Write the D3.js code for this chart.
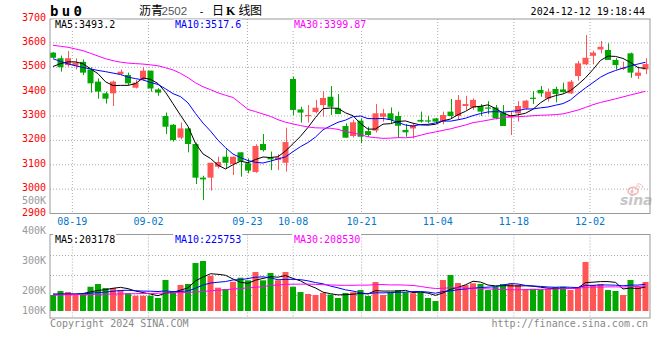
<!DOCTYPE html>
<html><head><meta charset="utf-8">
<script src="https://cdn.jsdelivr.net/npm/d3@7"></script>
<style>body{margin:0;background:#fff}svg{display:block}</style>
</head><body><svg id="c" width="660" height="360"></svg>
<script>
// ---------------- data ----------------
const dates = ["08-14","08-15","08-16","08-19","08-20","08-21","08-22","08-23","08-26","08-27","08-28","08-29","08-30",
"09-02","09-03","09-04","09-05","09-06","09-09","09-10","09-11","09-12","09-13","09-18","09-19","09-20","09-23","09-24","09-25","09-26","09-27","09-30",
"10-08","10-09","10-10","10-11","10-14","10-15","10-16","10-17","10-18","10-21","10-22","10-23","10-24","10-25","10-28","10-29","10-30","10-31",
"11-01","11-04","11-05","11-06","11-07","11-08","11-11","11-12","11-13","11-14","11-15","11-18","11-19","11-20","11-21","11-22","11-25","11-26","11-27","11-28","11-29",
"12-02","12-03","12-04","12-05","12-06","12-09","12-10","12-11","12-12"];
const opens = [3560,3537,3509,3506,3522,3491,3441,3393,3393,3472,3468,3416,3450,3486,3409,3300,3264,3211,3249,3185,3047,3047,3092,3133,3103,3151,3106,3070,3185,3130,
3120,3108,3452,3327,3300,3316,3345,3379,3331,3259,3218,3281,3238,3240,3297,3311,3300,3243,3249,3284,
3282,3290,3277,3318,3300,3341,3335,3341,3335,3335,3314,3294,3311,3331,3375,3407,3372,3411,3409,3393,
3464,3512,3547,3573,3571,3530,3494,3557,3465,3491];
const closes = [3539,3500,3537,3519,3478,3434,3400,3371,3441,3482,3434,3437,3486,3413,3396,3256,3201,3249,3185,3047,3040,3108,3111,3108,3133,3113,3076,3177,3160,3122,
3130,3193,3325,3314,3304,3334,3374,3338,3308,3211,3274,3215,3222,3311,3311,3284,3260,3233,3263,3277,
3280,3277,3304,3300,3366,3349,3366,3318,3330,3290,3259,3304,3341,3363,3371,3393,3400,3390,3398,3441,
3516,3539,3560,3584,3530,3509,3498,3478,3478,3513];
const highs = [3562,3548,3567,3537,3532,3500,3454,3400,3445,3491,3478,3448,3500,3486,3414,3314,3267,3273,3249,3191,3055,3108,3133,3163,3133,3151,3126,3184,3226,3154,
3144,3252,3461,3338,3345,3366,3402,3423,3390,3270,3284,3290,3256,3349,3329,3335,3318,3267,3267,3318,
3300,3292,3318,3370,3386,3383,3372,3349,3361,3345,3345,3318,3361,3366,3402,3423,3413,3420,3437,3448,
3526,3632,3568,3608,3598,3537,3523,3560,3502,3537];
const lows = [3537,3482,3502,3491,3468,3396,3371,3351,3341,3468,3427,3413,3445,3400,3383,3226,3195,3204,3151,3021,2955,2994,3085,3085,3058,3051,3065,3067,3154,3078,
3078,3072,3304,3273,3273,3311,3297,3304,3308,3211,3212,3188,3215,3232,3277,3270,3211,3215,3208,3273,
3270,3273,3266,3290,3286,3325,3325,3300,3307,3286,3259,3222,3277,3327,3349,3379,3359,3356,3396,3390,
3445,3509,3512,3557,3530,3491,3489,3457,3452,3472];
const volumes = [135000,169000,160000,135000,139000,205000,228000,194000,194000,177000,150000,129000,129000,129000,110000,262000,158000,220000,228000,405000,
422000,298000,197000,186000,247000,281000,259000,329000,259000,321000,259000,329000,205000,160000,144000,135000,152000,139000,110000,152000,
158000,177000,127000,245000,135000,158000,177000,158000,150000,158000,110000,84000,262000,304000,236000,220000,234000,228000,177000,203000,
228000,228000,220000,186000,188000,183000,186000,203000,203000,177000,203000,414000,220000,228000,177000,169000,135000,262000,203000,245000];
// moving-average values before enough in-window bars exist
const ma5Head = [3503,3515,3522,3522];
const ma10Head = [3535,3524,3514,3506,3499,3493,3487,3482,3476];
const ma30Head = [3590,3586,3582,3575,3568,3557,3546,3535,3527,3521,3517,3515,3513,3510,3506,3498,3489,3475,3457,3436,3420,3408,3395,3385,3376,3352,3327,3318,3308];
const vma5Head = [142000,142000,143000,143000];
const vma10Head = [142000,142000,143000,143000,145000,150000,155000,160000,166000];
const vma30Head = [135000,136000,137000,138000,139000,140000,141000,142000,143000,144000,145000,146000,147000,148000,150000,152000,154000,156000,158000,160000,165000,170000,175000,180000,185000,190000,195000,200000,206000];
const priceTicks = [2900,3000,3100,3200,3300,3400,3500,3600,3700];
const volTicks = [100000,200000,300000,400000,500000];
const dateTicks = ["08-19","09-02","09-23","10-08","10-21","11-04","11-18","12-02"];
const maNames = ["MA5","MA10","MA30"];
const maPriceText = ["3493.2","3517.6","3399.87"];
const maVolText = ["203178","225753","208530"];

// ---------------- layout ----------------
const svg = d3.select("#c");
const L = 50, R = 650;
const mainTop = 19, mainBot = 213.5;
const volTop = 234.5, volBot = 318, volBase = 311;
const mono = "'DejaVu Sans Mono', monospace";
const cjk = "'Noto Sans CJK SC', sans-serif";
const RED = "#ff5555", GREEN = "#00a800", GRID = "#aaaaaa";
const maColors = ["#000000","#0000ff","#ff00ff"];

const x = d3.scaleBand().domain(d3.range(dates.length)).range([L, 648.5]).paddingInner(0.2).paddingOuter(0);
const xc = i => x(i) + x.bandwidth()/2;
const gx = d3.scaleLinear().domain([0, 79]).range([49.5, 650.9]); // date grid positions
const y = d3.scaleLinear().domain([2900, 3700]).range([mainBot, 18.5]);
const vy = d3.scaleLinear().domain([0, 640000]).range([volBase, 235.2]);
const vLabelY = d3.scaleLinear().domain([200000, 500000]).range([294, 203.5]);

function ma(arr, n, head) {
  return arr.map((d, i) => i < n - 1 ? head[i] : d3.mean(arr.slice(i - n + 1, i + 1)));
}

svg.append("rect").attr("width", 660).attr("height", 360).attr("fill", "#fff");

// grids main
const gMain = svg.append("g");
gMain.selectAll("line.h").data(priceTicks.filter(t => t > 2900 && t < 3700)).join("line")
  .attr("x1", L).attr("x2", R).attr("y1", d => y(d)).attr("y2", d => y(d))
  .attr("stroke", GRID).attr("stroke-dasharray", "1,2");
const tickIdx = dateTicks.map(t => dates.indexOf(t));
gMain.selectAll("line.v").data(tickIdx).join("line")
  .attr("x1", d => gx(d)).attr("x2", d => gx(d)).attr("y1", mainTop).attr("y2", mainBot)
  .attr("stroke", GRID).attr("stroke-dasharray", "1,2");
// grids vol
const gVol = svg.append("g");
gVol.selectAll("line.h").data([0,1,2]).join("line")
  .attr("x1", L).attr("x2", R).attr("y1", d => 255.5 + d*20).attr("y2", d => 255.5 + d*20)
  .attr("stroke", GRID).attr("stroke-dasharray", "1,2");
gVol.selectAll("line.v").data(tickIdx).join("line")
  .attr("x1", d => gx(d)).attr("x2", d => gx(d)).attr("y1", volTop).attr("y2", volBot)
  .attr("stroke", GRID).attr("stroke-dasharray", "1,2");

// sina watermark
const wm = svg.append("g").attr("opacity", 0.55);
wm.append("ellipse").attr("cx", 633).attr("cy", 191).attr("rx", 5).attr("ry", 3.6).attr("fill", "none").attr("stroke", "#f08080").attr("stroke-width", 1.6);
wm.append("circle").attr("cx", 632).attr("cy", 191.5).attr("r", 1.6).attr("fill", "#f08080");
wm.append("path").attr("d", "M636,186 q3,-1 4,2 M637,184 q5,-1 6,4").attr("fill","none").attr("stroke","#f08080").attr("stroke-width",1);
wm.append("text").attr("x", 620).attr("y", 205).attr("font-family", "'DejaVu Sans', sans-serif")
  .attr("font-size", 14).attr("font-weight", "bold").attr("font-style", "italic").attr("fill", "#999").text("sina");

// candles
const isUp = i => closes[i] >= opens[i];
const gC = svg.append("g");
gC.selectAll("line").data(d3.range(dates.length)).join("line")
  .attr("x1", i => Math.round(xc(i)) + 0.5).attr("x2", i => Math.round(xc(i)) + 0.5)
  .attr("y1", i => y(highs[i])).attr("y2", i => y(lows[i]))
  .attr("stroke", i => isUp(i) ? RED : GREEN).attr("stroke-width", 1);
gC.selectAll("rect").data(d3.range(dates.length)).join("rect")
  .attr("x", i => x(i)).attr("width", x.bandwidth())
  .attr("y", i => y(Math.max(opens[i], closes[i])))
  .attr("height", i => Math.max(1.2, Math.abs(y(opens[i]) - y(closes[i]))))
  .attr("fill", i => isUp(i) ? RED : GREEN);

// price MAs
const pMAs = [ma(closes, 5, ma5Head), ma(closes, 10, ma10Head), ma(closes, 30, ma30Head)];
const pl = d3.line().x((d, i) => xc(i)).y(d => y(d));
svg.append("g").selectAll("path").data(pMAs).join("path")
  .attr("d", pl).attr("fill", "none").attr("stroke", (d, k) => maColors[k]).attr("stroke-width", 1);

// volume bars
svg.append("g").selectAll("rect").data(d3.range(dates.length)).join("rect")
  .attr("x", i => x(i)).attr("width", x.bandwidth())
  .attr("y", i => vy(volumes[i])).attr("height", i => volBase - vy(volumes[i]))
  .attr("fill", i => isUp(i) ? RED : GREEN);
const vMAs = [ma(volumes, 5, vma5Head), ma(volumes, 10, vma10Head), ma(volumes, 30, vma30Head)];
const vl = d3.line().x((d, i) => xc(i)).y(d => vy(d));
svg.append("g").selectAll("path").data(vMAs).join("path")
  .attr("d", vl).attr("fill", "none").attr("stroke", (d, k) => maColors[k]).attr("stroke-width", 1);

// borders
[[mainTop, mainBot], [volTop, volBot]].forEach(([t, b]) => {
  svg.append("rect").attr("x", L).attr("y", t).attr("width", R - L).attr("height", b - t)
    .attr("fill", "none").attr("stroke", "#999").attr("stroke-width", 1);
});

// legends
function legend(yb, texts) {
  const xs = [55, 175, 294];
  texts.forEach((t, k) => {
    const s = maNames[k] + ":" + t;
    svg.append("rect").attr("x", xs[k] - 2).attr("y", yb - 8.5).attr("width", s.length * 6.02 + 3).attr("height", 10.5).attr("fill", "#fff");
    svg.append("text").attr("x", xs[k]).attr("y", yb).attr("font-family", mono).attr("font-size", 10)
      .attr("fill", maColors[k]).text(s);
  });
}
legend(28, maPriceText);
legend(242.5, maVolText);

// price axis labels
svg.append("g").selectAll("text").data(priceTicks).join("text")
  .attr("x", 46).attr("y", d => y(d) + 2).attr("text-anchor", "end")
  .attr("font-family", mono).attr("font-size", 10).attr("fill", "#ff0000").text(d => d);
// volume axis labels
svg.append("g").selectAll("text").data(volTicks).join("text")
  .attr("x", 46).attr("y", d => Math.min(vLabelY(d), 314.3)).attr("text-anchor", "end")
  .attr("font-family", mono).attr("font-size", 10).attr("fill", "#999").text(d => (d / 1000) + "K");
// date labels
svg.append("g").selectAll("text").data(tickIdx).join("text")
  .attr("x", d => gx(d)).attr("y", 224.5).attr("text-anchor", "middle")
  .attr("font-family", mono).attr("font-size", 10).attr("fill", "#0077cc").text(d => dates[d]);

// header
svg.append("text").attr("x", 50).attr("y", 16).attr("font-family", mono).attr("font-size", 14)
  .attr("font-weight", "bold").attr("letter-spacing", 3.3).attr("fill", "#000").text("bu0");
const hdr = svg.append("g").attr("font-family", cjk).attr("font-size", 12).attr("fill", "#000");
hdr.append("text").attr("x", 139).attr("y", 15).text("沥青");
hdr.append("text").attr("x", 161.5).attr("y", 15).attr("font-family", "'Liberation Sans', Arial, sans-serif").attr("font-size", 11.5).attr("fill", "#555").text("2502");
hdr.append("text").attr("x", 198.5).attr("y", 14.5).attr("font-family", mono).attr("font-size", 10).text("-");
hdr.append("text").attr("x", 212).attr("y", 15).text("日");
hdr.append("text").attr("x", 226).attr("y", 15).attr("font-family", "'Liberation Serif', serif").attr("font-weight", "bold").attr("font-size", 12).text("K");
hdr.append("text").attr("x", 238.5).attr("y", 15).text("线");
hdr.append("text").attr("x", 250).attr("y", 15).text("图");
svg.append("text").attr("x", 645).attr("y", 15).attr("text-anchor", "end").attr("font-family", mono)
  .attr("font-size", 10).attr("fill", "#000").text("2024-12-12 19:18:44");

// footer
svg.append("text").attr("x", 50).attr("y", 326.5).attr("font-family", mono).attr("font-size", 10).attr("fill", "#888").text("Copyright 2024 SINA.COM");
svg.append("text").attr("x", 648).attr("y", 326.5).attr("text-anchor", "end").attr("font-family", mono).attr("font-size", 10).attr("fill", "#888").text("http://finance.sina.com.cn");
</script></body></html>
